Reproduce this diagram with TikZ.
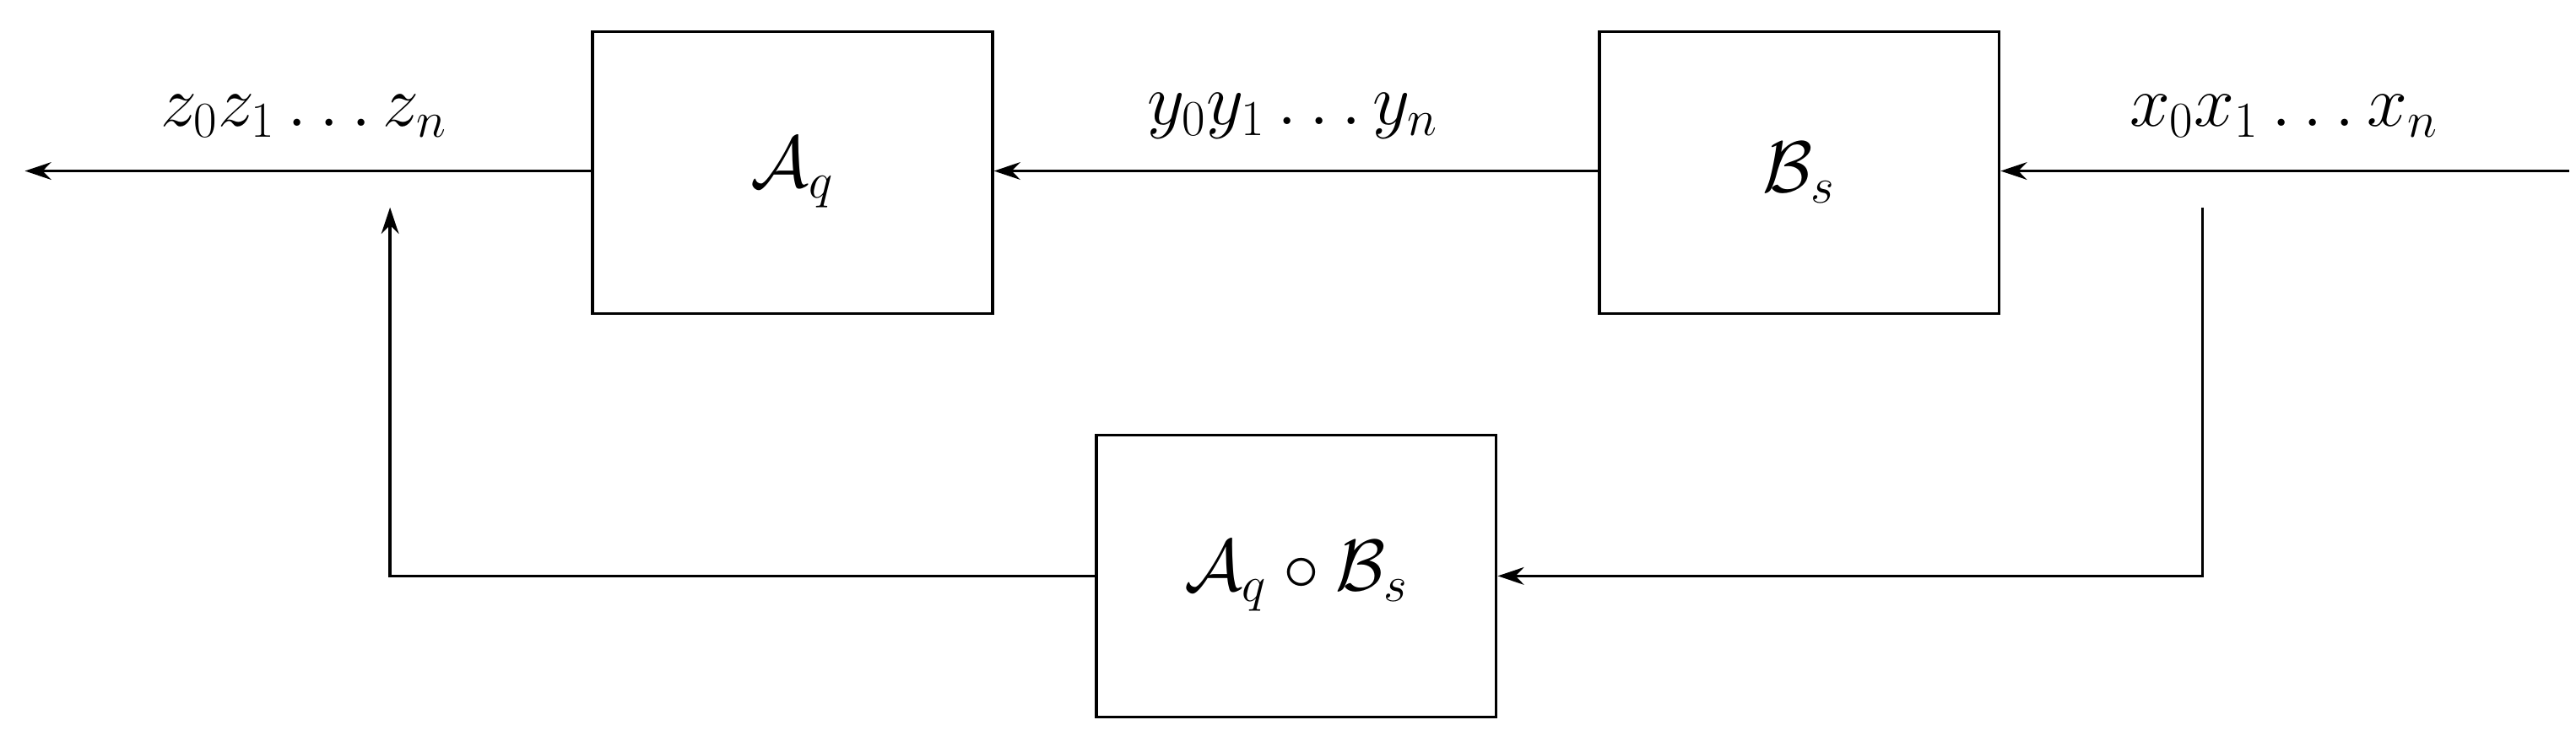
\documentclass[tikz,border=0pt]{standalone}
\usetikzlibrary{arrows.meta}
\begin{document}
\begin{tikzpicture}[x=0.02cm,y=-0.02cm,
  box/.style={draw,line width=1pt,minimum width=4.82cm,minimum height=3.4cm,font=\fontsize{26}{30}\selectfont},
  lab/.style={font=\fontsize{26}{30}\selectfont},
  arr/.style={line width=1pt,-{Stealth[length=9pt,width=6pt]}}]
\useasboundingbox (0,0) rectangle (1552,450);
\node[box] (A) at (477.5,104) {$\mathcal{A}_q$};
\node[box] (B) at (1084,104) {$\mathcal{B}_s$};
\node[box] (C) at (781,347) {$\mathcal{A}_q\circ\mathcal{B}_s$};
\coordinate (in) at (1548,103);
\coordinate (out) at (15,103);
\coordinate (t) at (1327,125);
\coordinate (tb) at (1327,347);
\coordinate (l) at (235,347);
\coordinate (lt) at (235,125);
\draw[arr] (in) -- (B.east |- in);
\draw[arr] (B.west |- in) -- (A.east |- in);
\draw[arr] (A.west |- in) -- (out);
\draw[arr] (t) -- (tb) -- (C.east);
\draw[arr] (C.west) -- (l) -- (lt);
\node[lab] (zl) at (183,70) {$z_0z_1\ldots z_n$};
\node[lab] (yl) at (779,70) {$y_0y_1\ldots y_n$};
\node[lab] (xl) at (1376,70) {$x_0x_1\ldots x_n$};
\end{tikzpicture}
\end{document}
